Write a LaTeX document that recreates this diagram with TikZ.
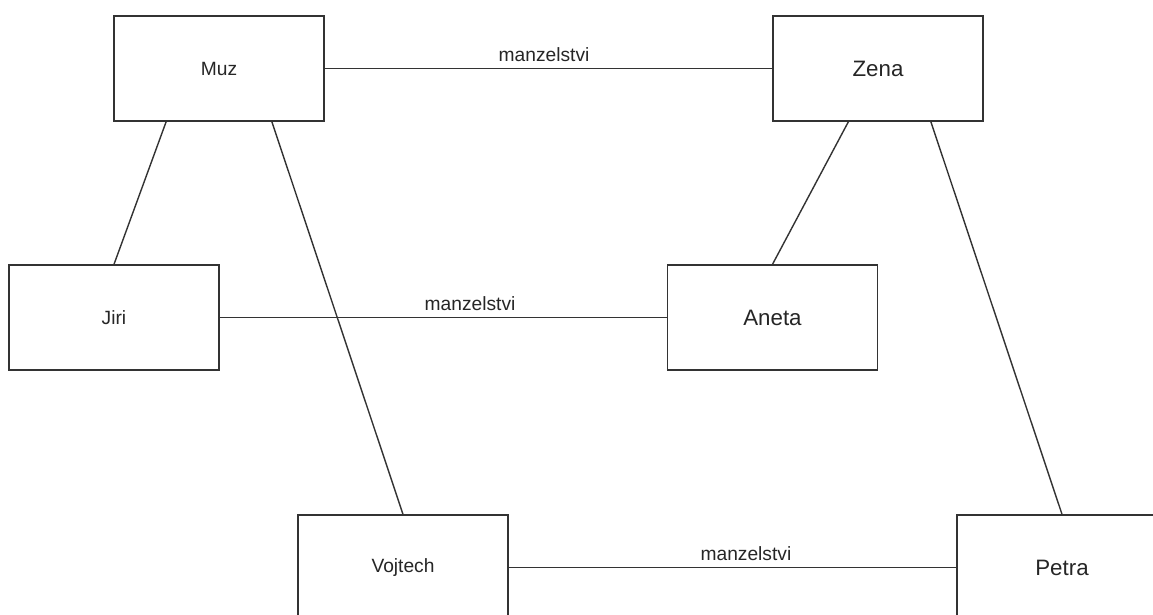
\documentclass[tikz,border=0pt]{standalone}
\usepackage{fontspec}
\setmainfont{Liberation Sans}
\usetikzlibrary{calc}
\begin{document}
\begin{tikzpicture}[x=1pt,y=-1pt,
  box/.style={draw=black!80, line width=1.4pt, fill=white, minimum width=210pt, minimum height=105pt, inner sep=0pt, text=black!85},
  small/.style={font=\fontsize{19.2}{23}\selectfont},
  big/.style={font=\fontsize{22.3}{27}\selectfont},
  link/.style={draw=black!80, line width=1.4pt},
  lab/.style={font=\fontsize{19.2}{23}\selectfont, text=black!85, inner sep=0pt, anchor=south, yshift=6pt}]
\useasboundingbox[fill=white] (0,0) rectangle (1153,614);
\node[box,small] (muz) at (219,68.5) {Muz};
\node[box,big] (zena) at (878,68.5) {Zena};
\node[box,small] (jiri) at (114,317.5) {Jiri};
\node[box,big] (aneta) at (772.5,317.5) {Aneta};
\node[box,small] (vojtech) at (403,567.5) {Vojtech};
\node[box,big] (petra) at (1062,567.5) {Petra};
\draw[link] (muz.east) -- node[lab, pos=0.49] {manzelstvi} (zena.west);
\draw[link] (jiri.east) -- node[lab, pos=0.56] {manzelstvi} (aneta.west);
\draw[link] (vojtech.east) -- node[lab, pos=0.53] {manzelstvi} (petra.west);
\draw[link] ($(muz.south west)!0.25!(muz.south east)$) -- (jiri.north);
\draw[link] ($(muz.south west)!0.75!(muz.south east)$) -- (vojtech.north);
\draw[link] ($(zena.south west)!0.36!(zena.south east)$) -- (aneta.north);
\draw[link] ($(zena.south west)!0.75!(zena.south east)$) -- (petra.north);
\end{tikzpicture}
\end{document}
